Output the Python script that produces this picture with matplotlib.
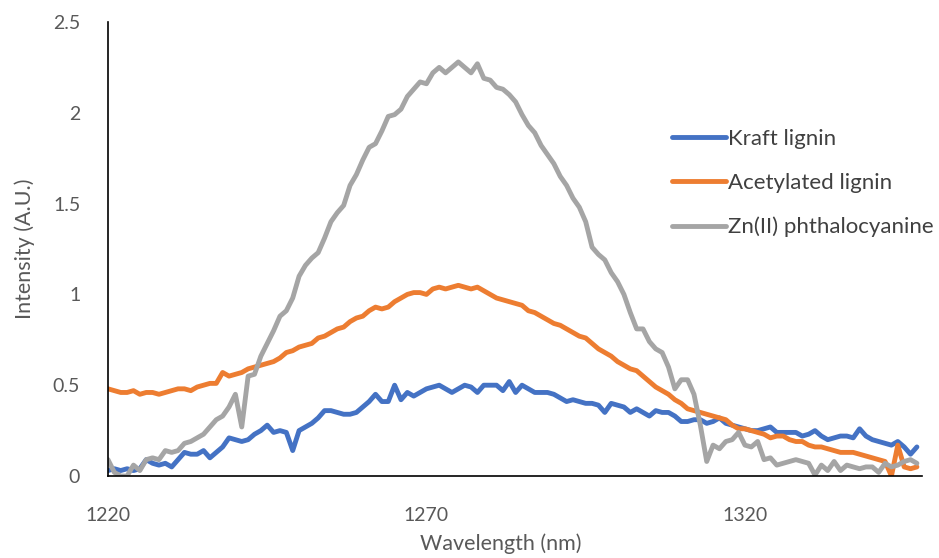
import matplotlib
matplotlib.use("Agg")
import matplotlib.pyplot as plt

plt.rcParams['font.family'] = ['Lato', 'DejaVu Sans']

wavelength = list(range(1220, 1348))

kraft = [0.03, 0.04, 0.03, 0.04, 0.03, 0.04, 0.09, 0.07, 0.06, 0.07,
         0.05, 0.09, 0.13, 0.12, 0.12, 0.14, 0.10, 0.13, 0.16, 0.21,
         0.20, 0.19, 0.20, 0.23, 0.25, 0.28, 0.24, 0.25, 0.24, 0.14,
         0.25, 0.27, 0.29, 0.32, 0.36, 0.36, 0.35, 0.34, 0.34, 0.35,
         0.38, 0.41, 0.45, 0.41, 0.41, 0.50, 0.42, 0.46, 0.44, 0.46,
         0.48, 0.49, 0.50, 0.48, 0.46, 0.48, 0.50, 0.49, 0.46, 0.50,
         0.50, 0.50, 0.47, 0.52, 0.46, 0.50, 0.48, 0.46, 0.46, 0.46,
         0.45, 0.43, 0.41, 0.42, 0.41, 0.40, 0.40, 0.39, 0.35, 0.40,
         0.39, 0.38, 0.35, 0.37, 0.35, 0.33, 0.36, 0.35, 0.35, 0.33,
         0.30, 0.30, 0.31, 0.31, 0.29, 0.30, 0.32, 0.29, 0.28, 0.27,
         0.26, 0.25, 0.25, 0.26, 0.27, 0.24, 0.24, 0.24, 0.24, 0.22,
         0.23, 0.25, 0.22, 0.20, 0.21, 0.22, 0.22, 0.21, 0.26, 0.22,
         0.20, 0.19, 0.18, 0.17, 0.19, 0.16, 0.12, 0.16]

acetylated = [0.48, 0.47, 0.46, 0.46, 0.47, 0.45, 0.46, 0.46, 0.45, 0.46,
              0.47, 0.48, 0.48, 0.47, 0.49, 0.50, 0.51, 0.51, 0.57, 0.55,
              0.56, 0.57, 0.59, 0.60, 0.61, 0.62, 0.63, 0.65, 0.68, 0.69,
              0.71, 0.72, 0.73, 0.76, 0.77, 0.79, 0.81, 0.82, 0.85, 0.87,
              0.88, 0.91, 0.93, 0.92, 0.93, 0.96, 0.98, 1.00, 1.01, 1.01,
              1.00, 1.03, 1.04, 1.03, 1.04, 1.05, 1.04, 1.03, 1.04, 1.02,
              1.00, 0.98, 0.97, 0.96, 0.95, 0.94, 0.91, 0.90, 0.88, 0.86,
              0.84, 0.83, 0.81, 0.79, 0.77, 0.76, 0.73, 0.70, 0.68, 0.66,
              0.63, 0.61, 0.59, 0.58, 0.55, 0.52, 0.49, 0.47, 0.45, 0.42,
              0.40, 0.37, 0.36, 0.35, 0.34, 0.33, 0.32, 0.31, 0.28, 0.26,
              0.26, 0.25, 0.24, 0.23, 0.21, 0.22, 0.22, 0.20, 0.19, 0.19,
              0.17, 0.16, 0.16, 0.15, 0.14, 0.13, 0.13, 0.13, 0.12, 0.11,
              0.10, 0.09, 0.08, 0.00, 0.17, 0.05, 0.04, 0.05]

zn_pc = [0.09, 0.02, 0.00, 0.00, 0.06, 0.03, 0.09, 0.10, 0.09, 0.14,
         0.13, 0.14, 0.18, 0.19, 0.21, 0.23, 0.27, 0.31, 0.33, 0.38,
         0.45, 0.27, 0.55, 0.56, 0.66, 0.73, 0.80, 0.88, 0.91, 0.98,
         1.10, 1.16, 1.20, 1.23, 1.31, 1.40, 1.45, 1.49, 1.60, 1.66,
         1.74, 1.81, 1.83, 1.90, 1.98, 1.99, 2.02, 2.09, 2.13, 2.17,
         2.16, 2.22, 2.25, 2.22, 2.25, 2.28, 2.25, 2.22, 2.27, 2.19,
         2.18, 2.14, 2.13, 2.10, 2.06, 1.99, 1.93, 1.89, 1.82, 1.77,
         1.72, 1.65, 1.60, 1.53, 1.48, 1.40, 1.26, 1.22, 1.19, 1.12,
         1.07, 1.00, 0.90, 0.81, 0.81, 0.74, 0.70, 0.68, 0.60, 0.48,
         0.53, 0.53, 0.45, 0.28, 0.08, 0.17, 0.15, 0.19, 0.20, 0.24,
         0.17, 0.16, 0.19, 0.09, 0.10, 0.06, 0.07, 0.08, 0.09, 0.08,
         0.07, 0.005, 0.06, 0.03, 0.08, 0.03, 0.06, 0.05, 0.04, 0.05,
         0.05, 0.02, 0.07, 0.05, 0.06, 0.08, 0.09, 0.07]

labels = ['Kraft lignin', 'Acetylated lignin', 'Zn(II) phthalocyanine']
colors = ['#4472C4', '#ED7D31', '#A5A5A5']

fig = plt.figure(figsize=(9.39, 5.58), dpi=100)
ax = fig.add_axes([108 / 939, 1 - 476 / 558, 814 / 939, 454 / 558])

for ys, lab, c in zip([kraft, acetylated, zn_pc], labels, colors):
    ax.plot(wavelength, ys, color=c, lw=3.5, label=lab, solid_capstyle='round')

ax.set_xlim(1220, 1347.8)
ax.set_ylim(0, 2.5)
ax.set_xticks([1220, 1270, 1320])
ax.set_yticks([0, 0.5, 1, 1.5, 2, 2.5])
ax.set_yticklabels(['0', '0.5', '1', '1.5', '2', '2.5'])
ax.tick_params(axis='both', length=0, labelsize=14, colors='#595959')
ax.tick_params(axis='x', pad=22)
ax.tick_params(axis='y', pad=20)

for s in ['top', 'right']:
    ax.spines[s].set_visible(False)
ax.spines['left'].set_color('black')
ax.spines['bottom'].set_color('black')
ax.spines['left'].set_linewidth(1.2)
ax.spines['bottom'].set_linewidth(1.2)

ax.set_xlabel('Wavelength (nm)', fontsize=15.5, color='#595959')
ax.xaxis.set_label_coords(0.482, -0.127)
ax.set_ylabel('Intensity (A.U.)', fontsize=15.5, color='#595959', labelpad=13)

leg = fig.legend(loc='upper left', bbox_to_anchor=(663 / 939, 1 - 120 / 558),
                 frameon=False, fontsize=16, handlelength=2.45,
                 handletextpad=0.08, labelspacing=1.08, borderaxespad=0)
for t in leg.get_texts():
    t.set_color('#404040')

fig.savefig('out.png', dpi=100)
